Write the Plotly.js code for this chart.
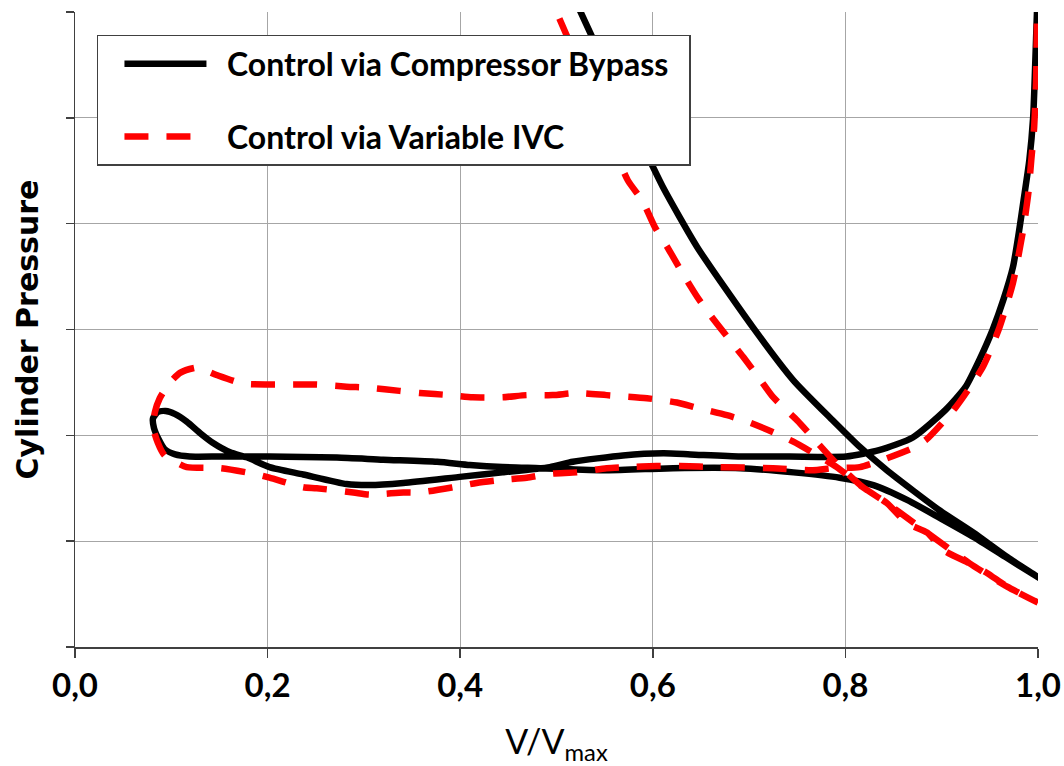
<!DOCTYPE html>
<html>
<head>
<meta charset="utf-8">
<script src="https://cdn.plot.ly/plotly-3.0.1.min.js"></script>
<style>
  html, body { margin: 0; padding: 0; background: #ffffff; }
  #chart { width: 1064px; height: 766px; }
</style>
</head>
<body>
<div id="chart"></div>
<script>
// Series names
const seriesNames = ["Control via Compressor Bypass", "Control via Variable IVC"];

// Control via Compressor Bypass: V/Vmax and cylinder pressure (path order)
const bypassV = [
  0.505, 0.525, 0.550, 0.575, 0.600, 0.612, 0.646, 0.704, 0.746, 0.787, 0.815, 0.843, 0.898, 0.933, 0.968, 1.000,
  0.968, 0.933, 0.898, 0.864, 0.829, 0.794, 0.746, 0.691, 0.621, 0.552, 0.483, 0.444, 0.410, 0.376,
  0.320, 0.272, 0.202, 0.151, 0.119, 0.104, 0.093, 0.087, 0.082, 0.081, 0.086, 0.094,
  0.104, 0.116, 0.130, 0.143, 0.161, 0.179, 0.202, 0.237, 0.282, 0.306, 0.341, 0.402, 0.444, 0.493,
  0.517, 0.569, 0.611, 0.639, 0.691, 0.742, 0.801, 0.835, 0.870, 0.904, 0.925, 0.939, 0.953, 0.964,
  0.974, 0.980, 0.985, 0.991, 0.995, 0.997, 0.999, 1.000
];
const bypassP = [
  6.41, 6.00, 5.51, 5.02, 4.54, 4.32, 3.78, 3.02, 2.52, 2.14, 1.89, 1.67, 1.29, 1.08, 0.85, 0.66,
  0.84, 1.04, 1.22, 1.39, 1.53, 1.60, 1.65, 1.69, 1.69, 1.67, 1.69, 1.70, 1.72, 1.75,
  1.77, 1.79, 1.80, 1.80, 1.80, 1.82, 1.87, 1.96, 2.07, 2.16, 2.22, 2.23,
  2.20, 2.13, 2.02, 1.93, 1.84, 1.79, 1.70, 1.63, 1.54, 1.53, 1.55, 1.61, 1.65, 1.70,
  1.75, 1.81, 1.83, 1.82, 1.80, 1.80, 1.80, 1.86, 1.98, 2.24, 2.46, 2.71, 3.00, 3.28,
  3.59, 3.91, 4.22, 4.60, 5.01, 5.48, 6.02, 6.30
];

// Control via Variable IVC: V/Vmax and cylinder pressure (path order)
const ivcV = [
  0.485, 0.500, 0.537, 0.574, 0.589, 0.602, 0.615, 0.631, 0.646, 0.661, 0.680, 0.694, 0.712, 0.725, 0.750,
  0.766, 0.787, 0.802, 0.818, 0.843, 0.864, 0.885, 0.901, 0.929, 0.947, 0.968, 1.000,
  0.968, 0.929, 0.885, 0.843, 0.818, 0.791, 0.771, 0.746, 0.725, 0.698, 0.677, 0.646, 0.625, 0.594,
  0.552, 0.521, 0.496, 0.469, 0.444, 0.413, 0.389, 0.358, 0.337, 0.306, 0.282, 0.251, 0.202, 0.174,
  0.147, 0.127, 0.109, 0.097, 0.088, 0.083, 0.081, 0.086, 0.093, 0.104, 0.116, 0.151, 0.184, 0.202,
  0.237, 0.251, 0.289, 0.306, 0.341, 0.358, 0.393, 0.417, 0.444, 0.469, 0.496, 0.521, 0.552, 0.573,
  0.604, 0.628, 0.667, 0.725, 0.766, 0.787, 0.815, 0.839, 0.870, 0.884, 0.915, 0.943, 0.960, 0.974,
  0.984, 0.990, 0.993, 0.996, 0.998, 0.999, 1.000
];
const ivcP = [
  6.30, 6.00, 5.22, 4.41, 4.22, 3.97, 3.78, 3.53, 3.31, 3.12, 2.90, 2.74, 2.52, 2.36, 2.14,
  1.98, 1.77, 1.64, 1.51, 1.36, 1.17, 1.08, 0.92, 0.79, 0.70, 0.57, 0.42,
  0.57, 0.79, 1.08, 1.36, 1.51, 1.70, 1.81, 1.94, 2.03, 2.13, 2.19, 2.26, 2.31, 2.35,
  2.38, 2.40, 2.38, 2.38, 2.36, 2.36, 2.38, 2.40, 2.42, 2.45, 2.46, 2.48, 2.48, 2.49,
  2.57, 2.64, 2.59, 2.48, 2.35, 2.22, 2.08, 1.93, 1.81, 1.75, 1.70, 1.69, 1.64, 1.60,
  1.51, 1.50, 1.46, 1.44, 1.46, 1.46, 1.51, 1.55, 1.58, 1.60, 1.64, 1.65, 1.69, 1.70,
  1.71, 1.71, 1.70, 1.69, 1.67, 1.69, 1.70, 1.77, 1.88, 1.96, 2.27, 2.65, 3.02, 3.44,
  3.91, 4.29, 4.60, 4.91, 5.33, 5.99, 6.30
];

// Axis ticks
const xTickVals = [0, 0.2, 0.4, 0.6, 0.8, 1.0];
const xTickText = ["0,0", "0,2", "0,4", "0,6", "0,8", "1,0"];
const yTickVals = [0, 1, 2, 3, 4, 5, 6];

const NB = "\u00a0";
const traces = [
  {
    x: bypassV, y: bypassP, name: NB + NB + seriesNames[0] + NB + NB, type: "scatter", mode: "lines",
    legendgroup: "a",
    line: { color: "#000000", width: 6.5, shape: "spline", smoothing: 0.6 },
    hoverinfo: "skip"
  },
  {
    x: ivcV, y: ivcP, name: NB + NB + seriesNames[1], type: "scatter", mode: "lines",
    legendgroup: "b",
    line: { color: "#ff0000", width: 6.5, dash: "24px,18px", shape: "spline", smoothing: 0.6 },
    hoverinfo: "skip"
  }
];

const layout = {
  width: 1064, height: 766,
  margin: { l: 75, r: 26, t: 12, b: 119 },
  paper_bgcolor: "#ffffff", plot_bgcolor: "#ffffff",
  showlegend: true,
  legend: {
    x: 0.0228, y: 0.9638, xanchor: "left", yanchor: "top",
    bgcolor: "#ffffff", bordercolor: "#404040", borderwidth: 1.5,
    font: { family: "Lato, sans-serif", size: 32, color: "#000000", weight: "bold" },
    itemwidth: 82, tracegroupgap: 28, traceorder: "grouped", indentation: 21
  },
  xaxis: {
    range: [0, 1], tickvals: xTickVals, ticktext: xTickText,
    showgrid: true, gridcolor: "#a6a6a6", gridwidth: 1.3,
    showline: true, linecolor: "#404040", linewidth: 1.5,
    ticks: "outside", ticklen: 9, tickwidth: 1.5, tickcolor: "#404040",
    zeroline: false,
    tickfont: { family: "Lato, sans-serif", size: 33, color: "#000000", weight: "bold" },
    title: { text: "V/V<sub>max</sub>", font: { family: "Lato, sans-serif", size: 34, color: "#000000" }, standoff: 30 }
  },
  yaxis: {
    range: [0, 6], tickvals: yTickVals, showticklabels: false,
    showgrid: true, gridcolor: "#a6a6a6", gridwidth: 1.3,
    showline: true, linecolor: "#404040", linewidth: 1.5,
    ticks: "outside", ticklen: 8, tickwidth: 1.5, tickcolor: "#404040",
    zeroline: false,
    title: { text: "Cylinder Pressure", font: { family: "DejaVu Sans, sans-serif", size: 30, color: "#000000", weight: "bold" }, standoff: 18 }
  }
};

Plotly.newPlot("chart", traces, layout, { displayModeBar: false, staticPlot: true });
</script>
</body>
</html>
